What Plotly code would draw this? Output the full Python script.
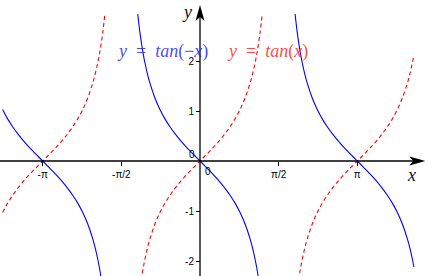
import plotly.graph_objects as go
import math

# ---- data ----
# base branch of tan(u), values read/tabulated
U = [-1.2427, -1.2, -1.15, -1.13, -1.1, -1.05, -1.0, -0.9, -0.8, -0.7, -0.6, -0.5,
     -0.4, -0.3, -0.2, -0.1, 0.0, 0.1, 0.2, 0.3, 0.4, 0.5, 0.6, 0.7, 0.8, 0.9,
     1.0, 1.05, 1.1, 1.13, 1.15, 1.2, 1.2427]
TAN_U = [-2.94, -2.572, -2.2345, -2.1195, -1.9648, -1.7433, -1.5574, -1.2602, -1.0296,
         -0.8423, -0.6841, -0.5463, -0.4228, -0.3093, -0.2027, -0.1003, 0.0, 0.1003,
         0.2027, 0.3093, 0.4228, 0.5463, 0.6841, 0.8423, 1.0296, 1.2602, 1.5574,
         1.7433, 1.9648, 2.1195, 2.2345, 2.572, 2.94]
BRANCH_CENTERS = [-math.pi, 0.0, math.pi]
X_DOMAIN = [-3.945, 4.272]

X_TICKS = [-math.pi, -math.pi / 2, math.pi / 2, math.pi]
X_TICK_LABELS = ["-π", "-π/2", "π/2", "π"]
Y_TICKS = [-2, -1, 1, 2]
Y_TICK_LABELS = ["-2", "-1", "1", "2"]

X_RANGE = [-3.994, 4.653]
Y_RANGE = [-2.3, 3.22]
X_TIP = 4.5
Y_TIP = 3.12


def branches(sign):
    xs, ys = [], []
    for c in BRANCH_CENTERS:
        for u, v in zip(U, TAN_U):
            x = c + u
            if X_DOMAIN[0] - 1e-9 <= x <= X_DOMAIN[1] + 1e-9:
                xs.append(x)
                ys.append(sign * v)
        xs.append(None)
        ys.append(None)
    return xs, ys


rx, ry = branches(1)
bx, by = branches(-1)

fig = go.Figure()
fig.add_trace(go.Scatter(x=rx, y=ry, mode="lines", line=dict(color="#ff0000", width=1.1, dash="4px,3px", shape="spline"),
                         hoverinfo="skip", showlegend=False))
fig.add_trace(go.Scatter(x=bx, y=by, mode="lines", line=dict(color="#0000ff", width=1.1, shape="spline"),
                         hoverinfo="skip", showlegend=False))

shapes = [
    dict(type="line", xref="x", yref="y", x0=X_RANGE[0] - 0.1, y0=0, x1=X_TIP - 0.2, y1=0,
         line=dict(color="black", width=1.3)),
    dict(type="line", xref="x", yref="y", x0=0, y0=Y_RANGE[0] - 0.1, x1=0, y1=Y_TIP - 0.2,
         line=dict(color="black", width=1.3)),
    dict(type="path", xref="x", yref="y", xsizemode="pixel", ysizemode="pixel",
         xanchor=X_TIP, yanchor=0, path="M 0 0 L -16 4.5 L -12 0 L -16 -4.5 Z",
         fillcolor="black", line=dict(width=0)),
    dict(type="path", xref="x", yref="y", xsizemode="pixel", ysizemode="pixel",
         xanchor=0, yanchor=Y_TIP, path="M 0 0 L -4.5 -16 L 0 -12 L 4.5 -16 Z",
         fillcolor="black", line=dict(width=0)),
]

serif = "Liberation Serif"
sp = "\u2002"
annotations = [
    dict(x=-0.74, y=2.19, xref="x", yref="y", showarrow=False,
         text="<i>y</i>" + sp + "=" + sp + "<i>tan</i>(−<i>x</i>)",
         font=dict(family=serif, size=18, color="rgba(40,40,255,0.85)")),
    dict(x=1.35, y=2.19, xref="x", yref="y", showarrow=False,
         text="<i>y</i>" + sp + "=" + sp + "<i>tan</i>(<i>x</i>)",
         font=dict(family=serif, size=18, color="rgba(255,40,40,0.85)")),
    dict(x=-0.26, y=2.98, xref="x", yref="y", showarrow=False,
         text="<i>y</i>", font=dict(family=serif, size=18, color="#101020")),
    dict(x=4.22, y=-0.28, xref="x", yref="y", showarrow=False,
         text="<i>x</i>", font=dict(family=serif, size=18, color="#101020")),
    dict(x=0.16, y=-0.2, xref="x", yref="y", showarrow=False,
         text="0", font=dict(family="Liberation Sans", size=10, color="black")),
    dict(x=-0.16, y=0.14, xref="x", yref="y", showarrow=False,
         text="0", font=dict(family="Liberation Sans", size=10, color="black")),
]

fig.update_layout(
    width=433, height=276, margin=dict(l=0, r=0, t=0, b=0),
    paper_bgcolor="white", plot_bgcolor="white",
    shapes=shapes, annotations=annotations,
    xaxis=dict(range=X_RANGE, showgrid=False, zeroline=False, showline=False,
               tickvals=X_TICKS, ticktext=X_TICK_LABELS, ticks="outside", ticklen=4,
               tickcolor="black", tickwidth=1, anchor="free",
               position=(0 - Y_RANGE[0]) / (Y_RANGE[1] - Y_RANGE[0]),
               tickfont=dict(family="Liberation Sans", size=10, color="black")),
    yaxis=dict(range=Y_RANGE, showgrid=False, zeroline=False, showline=False,
               tickvals=Y_TICKS, ticktext=Y_TICK_LABELS, ticks="outside", ticklen=4,
               tickcolor="black", tickwidth=1, anchor="free",
               position=(0 - X_RANGE[0]) / (X_RANGE[1] - X_RANGE[0]),
               tickfont=dict(family="Liberation Sans", size=10, color="black")),
)

fig.write_html("out.html")
